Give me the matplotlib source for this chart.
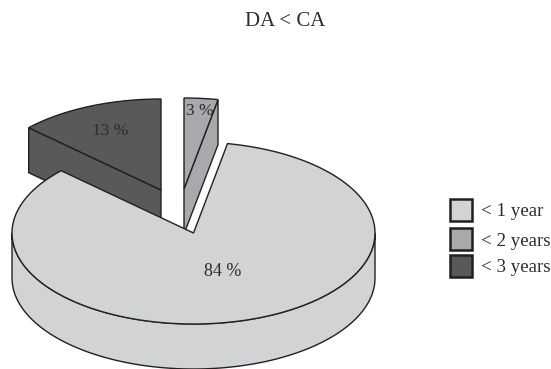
import numpy as np
import matplotlib
matplotlib.use("Agg")
import matplotlib.pyplot as plt
from matplotlib.patches import Rectangle

#### chart data ###############################
title = "DA < CA"
legend_labels = ["< 1 year", "< 2 years", "< 3 years"]
# slices in drawing order round the pie, clockwise from north
shares = [3, 84, 13]
share_labels = ["3 %", "84 %", "13 %"]

plt.rcParams['font.family'] = ['Liberation Serif', 'DejaVu Serif']

LIGHT, MID, DARK = '#d1d3d4', '#a7a9ac', '#58595b'
INK = '#231f20'
TEXT = '#2e2c2d'

RX, RY = 181.5, 91.0
DEPTH = 45.0
LW = 1.0


def rim(cx, cy, a0, a1):
    # points along the ellipse, angles in degrees clockwise from north
    a = np.radians(np.linspace(a0, a1, 200))
    return cx + RX * np.sin(a), cy - RY * np.cos(a)


def draw_slice(ax, cx, cy, a0, a1, color, z):
    # cut faces that look towards the viewer
    for edge in (a0, a1):
        ex, ey = rim(cx, cy, edge, edge)
        if (edge == a1 and 0 < edge < 180) or (edge == a0 and 180 < edge < 360):
            ax.fill([cx, ex[0], ex[0], cx], [cy, ey[0], ey[0] + DEPTH, cy + DEPTH],
                    facecolor=color, edgecolor=INK, lw=LW, zorder=z)

    # outer wall, only the front half shows
    w0, w1 = max(a0, 90), min(a1, 270)
    if w1 > w0:
        wx, wy = rim(cx, cy, w0, w1)
        ax.fill(np.r_[wx, wx[::-1]], np.r_[wy, wy[::-1] + DEPTH],
                facecolor=color, edgecolor=INK, lw=LW, zorder=z)

    # top face
    tx, ty = rim(cx, cy, a0, a1)
    ax.fill(np.r_[cx, tx], np.r_[cy, ty], facecolor=color, edgecolor=INK,
            lw=LW, joinstyle='miter', zorder=z + 0.5)


fig = plt.figure(figsize=(5.51, 3.69), dpi=100)
ax = fig.add_axes([0, 0, 1, 1])
ax.set_xlim(0, 551)
ax.set_ylim(369, 0)
ax.axis('off')

edges = np.r_[0, np.cumsum(shares)] * 360 / sum(shares)

# pulled out slices go first, the big one sits on top of them
draw_slice(ax, 161, 190, edges[2], edges[3], DARK, 1)
draw_slice(ax, 184, 189, edges[0], edges[1], MID, 2)
draw_slice(ax, 193.5, 233, edges[1], edges[2], LIGHT, 3)

ax.text(285, 22, title, ha='center', va='center', fontsize=15, color=TEXT)
ax.text(199.5, 111, share_labels[0], ha='center', va='center', fontsize=12.5, color=TEXT, zorder=5)
ax.text(223, 272, share_labels[1], ha='center', va='center', fontsize=13, color=TEXT, zorder=5)
ax.text(110.5, 131, share_labels[2], ha='center', va='center', fontsize=12.5, color=TEXT, zorder=5)

# legend
box_tops = [199, 228, 255]
text_ys = [212, 242, 268]
for top, y, label, color in zip(box_tops, text_ys, legend_labels, [LIGHT, MID, DARK]):
    ax.add_patch(Rectangle((449.5, top), 22, 22, facecolor=color, edgecolor=INK, lw=1.8))
    ax.text(481, y, label, ha='left', va='center', fontsize=13.6, color=TEXT)

fig.savefig('out.png', dpi=100)
